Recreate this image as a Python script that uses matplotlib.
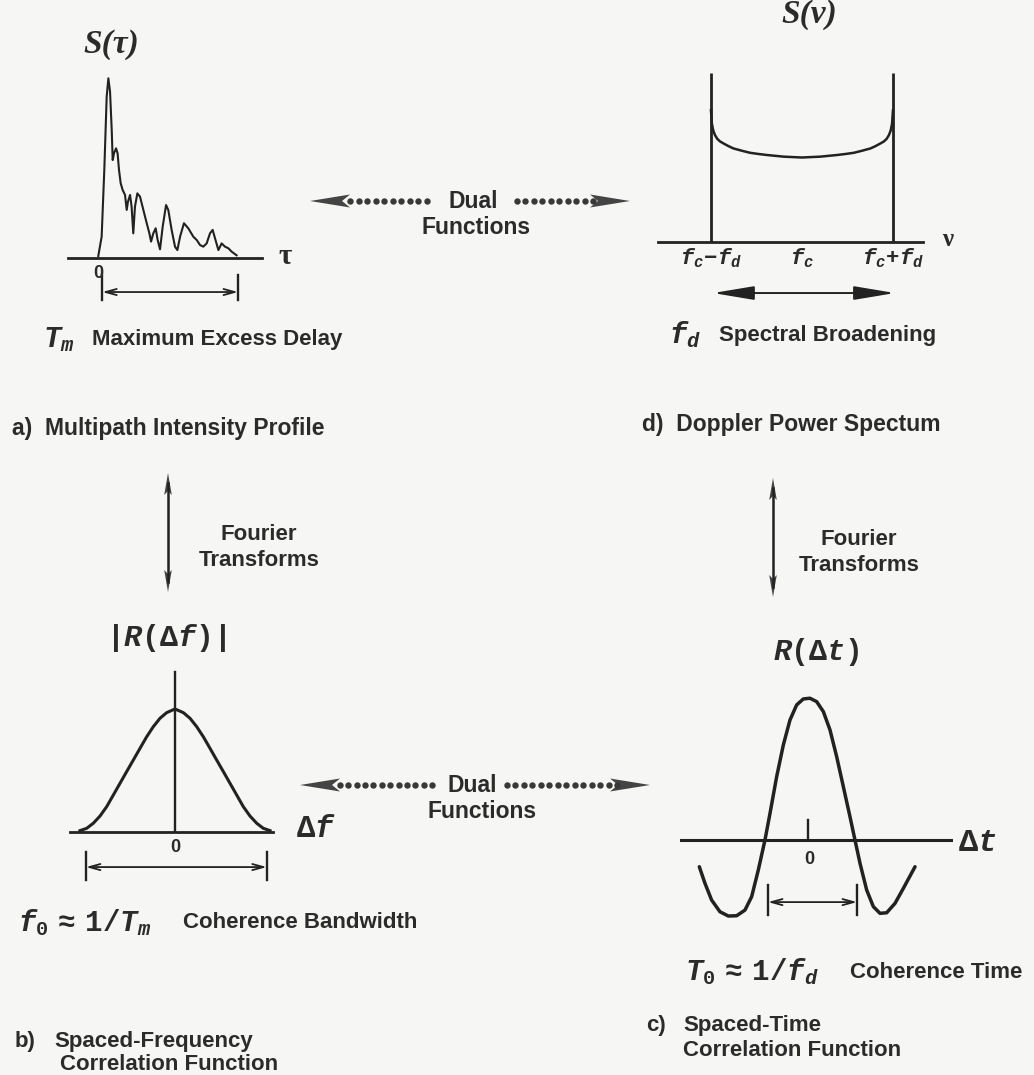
# Funciones de correlacion y espectros de potencia de un canal con desvanecimiento.

import matplotlib.pyplot as plt
import numpy as np
from matplotlib.patches import Polygon

plt.rcParams['mathtext.fontset'] = 'custom'
plt.rcParams['mathtext.rm'] = 'Liberation Mono:bold'
plt.rcParams['mathtext.it'] = 'Liberation Mono:italic:bold'
plt.rcParams['mathtext.bf'] = 'Liberation Mono:bold'

# Datos (unidades normalizadas de cada panel).

# a) perfil de intensidad multitrayecto: tau / T_m , S(tau) / max
tau = [ 0.002, 0.026, 0.045, 0.062, 0.074, 0.086, 0.098, 0.105, 0.114, 0.129, 0.140, 0.150,
        0.162, 0.176, 0.193, 0.205, 0.214, 0.229, 0.240, 0.252, 0.264, 0.281, 0.300, 0.324,
        0.348, 0.367, 0.379, 0.395, 0.412, 0.426, 0.443, 0.462, 0.486, 0.502, 0.526, 0.550,
        0.567, 0.586, 0.614, 0.645, 0.681, 0.705, 0.729, 0.752, 0.776, 0.800, 0.819, 0.836,
        0.860, 0.883, 0.907, 0.931, 0.955, 0.990 ]
s_tau = [ 0.011, 0.118, 0.489, 0.896, 0.998, 0.924, 0.711, 0.544, 0.581, 0.609, 0.581, 0.489,
          0.415, 0.378, 0.350, 0.267, 0.313, 0.350, 0.285, 0.137, 0.285, 0.359, 0.341, 0.267,
          0.193, 0.137, 0.091, 0.137, 0.165, 0.100, 0.048, 0.174, 0.294, 0.267, 0.156, 0.063,
          0.044, 0.118, 0.193, 0.165, 0.118, 0.100, 0.072, 0.063, 0.081, 0.137, 0.156, 0.109,
          0.044, 0.081, 0.063, 0.054, 0.035, 0.015 ]

# d) espectro Doppler: (nu - fc) / fd , S(nu)
nu = [ -1.0, -0.99, -0.975, -0.956, -0.93, -0.9, -0.865, -0.81, -0.755, -0.66, -0.571, -0.48,
       -0.388, -0.2, 0.0, 0.2, 0.388, 0.48, 0.571, 0.66, 0.755, 0.81, 0.865, 0.9, 0.93,
       0.956, 0.975, 0.99, 1.0 ]
s_nu = [ 0.78, 0.70, 0.66, 0.633, 0.61, 0.595, 0.584, 0.568, 0.554, 0.54, 0.528, 0.521,
         0.515, 0.505, 0.50, 0.505, 0.515, 0.521, 0.528, 0.54, 0.554, 0.568, 0.584, 0.595,
         0.61, 0.633, 0.66, 0.70, 0.78 ]
nu_ticks = [ -1.0, 0.0, 1.0 ]
nu_labels = [ r'$f_c\!-\!f_d$', r'$f_c$', r'$f_c\!+\!f_d$' ]

# b) correlacion en frecuencia: delta f , |R(delta f)|
df = [ -1.056, -0.981, -0.908, -0.833, -0.759, -0.685, -0.611, -0.537, -0.463, -0.389,
       -0.314, -0.241, -0.167, -0.093, 0.0, 0.093, 0.167, 0.241, 0.314, 0.389, 0.463,
       0.537, 0.611, 0.685, 0.759, 0.833, 0.908, 0.981, 1.056 ]
r_df = [ 0.011, 0.030, 0.071, 0.130, 0.206, 0.301, 0.396, 0.491, 0.585, 0.680, 0.775,
         0.856, 0.924, 0.970, 1.0, 0.970, 0.924, 0.856, 0.775, 0.680, 0.585, 0.491, 0.396,
         0.301, 0.206, 0.130, 0.071, 0.030, 0.011 ]

# c) correlacion en tiempo: delta t , R(delta t)
dt = [ -2.415, -2.289, -2.141, -1.956, -1.770, -1.585, -1.400, -1.252, -1.104, -0.956,
       -0.844, -0.696, -0.548, -0.400, -0.252, -0.104, 0.044, 0.193, 0.341, 0.489, 0.637,
       0.785, 0.933, 1.044, 1.156, 1.304, 1.452, 1.600, 1.748, 1.933, 2.119, 2.378 ]
r_dt = [ -0.188, -0.305, -0.423, -0.505, -0.535, -0.533, -0.493, -0.399, -0.211, 0.0,
         0.188, 0.446, 0.669, 0.845, 0.951, 0.993, 0.998, 0.974, 0.904, 0.775, 0.587,
         0.376, 0.164, 0.0, -0.164, -0.352, -0.469, -0.516, -0.512, -0.446, -0.340, -0.188 ]

W , H = 1034 , 1075
INK = '#222222'
TXT = '#2b2b2b'
SANS = [ 'Liberation Sans', 'DejaVu Sans' ]
SERIF = [ 'Liberation Serif', 'DejaVu Serif' ]
BG = '#f6f6f4'

fig = plt.figure( figsize = ( W / 100 , H / 100 ) , dpi = 100 )
fig.patch.set_facecolor( BG )

# Ejes de superposicion en pixeles.
ov = fig.add_axes( [ 0 , 0 , 1 , 1 ] )
ov.set_xlim( 0 , W )
ov.set_ylim( H , 0 )
ov.axis( 'off' )

def panel( x0 , y0 , x1 , y1 , xlim , ylim ) :

    ax = fig.add_axes( [ x0 / W , 1 - y1 / H , ( x1 - x0 ) / W , ( y1 - y0 ) / H ] )
    ax.set_xlim( xlim )
    ax.set_ylim( ylim )
    ax.axis( 'off' )
    ax.patch.set_alpha( 0 )
    return ax

def label( x , y , s , size = 16 , ha = 'left' , family = SANS , **kw ) :

    ov.text( x , y , s , fontsize = size , ha = ha , va = 'center' , color = TXT ,
             family = family , fontweight = 'bold' , **kw )

def bracket( ax , a , b , y , y0 , y1 ) :

    ax.annotate( '' , xy = ( b , y ) , xytext = ( a , y ) , annotation_clip = False ,
                 arrowprops = dict( arrowstyle = '<->,head_length=0.8,head_width=0.22' ,
                                    lw = 1.3 , color = INK , shrinkA = 0 , shrinkB = 0 ) )
    ax.plot( [ a , a ] , [ y0 , y1 ] , color = INK , lw = 1.7 , clip_on = False )
    ax.plot( [ b , b ] , [ y0 , y1 ] , color = INK , lw = 1.7 , clip_on = False )

def dart( x , y , d , L = 40 , w = 6.5 , n = 8 , horiz = True ) :

    if horiz :
        pts = [ ( x , y ) , ( x + d * L , y - w ) , ( x + d * ( L - n ) , y ) , ( x + d * L , y + w ) ]
    else :
        pts = [ ( x , y ) , ( x - w , y + d * L ) , ( x , y + d * ( L - n ) ) , ( x + w , y + d * L ) ]
    ov.add_patch( Polygon( pts , closed = True , color = '#444444' , lw = 0 ) )

def dual_arrow( y , xl , xr , d0 , d1 , d2 , d3 , xt , xf ) :

    dart( xl , y , 1 )
    dart( xr , y , -1 )
    for a , b in ( ( d0 , d1 ) , ( d2 , d3 ) ) :
        xs = np.linspace( a , b , int( round( ( b - a ) / 8.5 ) ) + 1 )
        ov.plot( xs , np.full( len( xs ) , y ) , 'o' , ms = 4.6 , color = '#383838' , mew = 0 )
    label( xt , y , 'Dual' , 16.5 , 'center' )
    label( xf , y + 27 , 'Functions' , 16.5 , 'center' )

def fourier( x , y0 , y1 , xt ) :

    ov.plot( [ x , x ] , [ y0 + 10 , y1 - 10 ] , color = INK , lw = 1.8 )
    dart( x , y0 , 1 , L = 22 , w = 3.8 , n = 4 , horiz = False )
    dart( x , y1 , -1 , L = 22 , w = 3.8 , n = 4 , horiz = False )
    label( xt , ( y0 + y1 ) / 2 + 2 , 'Fourier' , 16 , 'center' )
    label( xt , ( y0 + y1 ) / 2 + 28 , 'Transforms' , 16 , 'center' )

# a) Perfil de intensidad multitrayecto.
axa = panel( 68 , 70 , 262 , 258 , ( -0.2143 , 1.1714 ) , ( 0 , 1.044 ) )
axa.plot( [ -0.2143 , 1.1714 ] , [ 0 , 0 ] , color = INK , lw = 2.0 , clip_on = False )
axa.plot( tau , s_tau , color = INK , lw = 1.5 , clip_on = False , solid_joinstyle = 'round' )
bracket( axa , 0.03 , 1.0 , -0.189 , -0.094 , -0.233 )
axa.text( 0 , -0.085 , '0' , ha = 'center' , va = 'center' , fontsize = 13 , fontweight = 'bold' , color = TXT , family = SANS )
label( 111 , 45 , r'S(τ)' , 24 , 'center' , SERIF , style = 'italic' )
label( 285 , 256 , 'τ' , 21 , 'center' , SERIF )
label( 43 , 340 , r'$T_m$' , 21 )
label( 92 , 340 , 'Maximum Excess Delay' , 16 )
label( 12 , 428 , 'a)  Multipath Intensity Profile' , 16.5 )

# d) Espectro de potencia Doppler.
axd = panel( 658 , 60 , 923 , 242 , ( -1.582 , 1.330 ) , ( 0 , 1.077 ) )
axd.plot( [ -1.582 , 1.330 ] , [ 0 , 0 ] , color = INK , lw = 2.0 , clip_on = False )
axd.vlines( [ nu[ 0 ] , nu[ -1 ] ] , 0 , 1.0 , color = INK , lw = 2.0 )
axd.plot( nu , s_nu , color = INK , lw = 1.8 , solid_joinstyle = 'round' )
for v , t in zip( nu_ticks , nu_labels ) :
    axd.text( v , -0.095 , t , ha = 'center' , va = 'center' , fontsize = 16 , color = TXT )
axd.annotate( '' , xy = ( 1.022 , -0.302 ) , xytext = ( -0.978 , -0.302 ) , annotation_clip = False ,
              arrowprops = dict( arrowstyle = '<|-|>,head_length=1.8,head_width=0.3' , mutation_scale = 14 ,
                                 lw = 1.4 , color = INK , shrinkA = 0 , shrinkB = 0 ) )
label( 809 , 14 , r'S(ν)' , 24 , 'center' , SERIF , style = 'italic' )
label( 948 , 240 , 'ν' , 18 , 'center' , SERIF )
label( 669 , 335 , r'$f_d$' , 21 )
label( 719 , 335 , 'Spectral Broadening' , 16 )
label( 642 , 425 , 'd)  Doppler Power Spectum' , 16.5 )

# Flechas entre paneles.
dual_arrow( 201 , 310 , 630 , 350 , 427 , 517 , 593 , 473 , 476 )
dual_arrow( 785 , 300 , 650 , 340 , 432 , 507 , 617 , 472 , 482 )
fourier( 168 , 473 , 592 , 259 )
fourier( 773 , 478 , 597 , 859 )

# b) Correlacion en frecuencia.
axb = panel( 70 , 660 , 273 , 832 , ( -1.1667 , 1.0889 ) , ( 0 , 1.398 ) )
axb.plot( [ -1.1667 , 1.0889 ] , [ 0 , 0 ] , color = INK , lw = 2.0 , clip_on = False )
axb.plot( [ 0 , 0 ] , [ 0 , 1.30 ] , color = INK , lw = 1.7 )
axb.plot( df , r_df , color = INK , lw = 2.2 , solid_joinstyle = 'round' )
bracket( axb , -0.99 , 1.02 , -0.285 , -0.163 , -0.39 )
axb.text( 0 , -0.13 , '0' , ha = 'center' , va = 'center' , fontsize = 13 , fontweight = 'bold' , color = TXT , family = SANS )
label( 166 , 638 , r'$|R(\Delta f)|$' , 21.5 , 'center' )
label( 316 , 829 , r'$\Delta f$' , 22 , 'center' )
label( 18 , 923 , r'$f_0\ \approx\ 1/T_m$' , 21 )
label( 183 , 923 , 'Coherence Bandwidth' , 16 )
label( 15 , 1041 , 'b)' , 16 )
label( 54 , 1041 , 'Spaced-Frequency' , 16 )
label( 60 , 1064 , 'Correlation Function' , 16 )

# c) Correlacion en tiempo.
axc = panel( 680 , 690 , 953 , 920 , ( -2.844 , 3.222 ) , ( -0.563 , 1.056 ) )
axc.axhline( 0 , color = INK , lw = 2.2 )
axc.plot( [ 0 , 0 ] , [ 0 , 0.14 ] , color = INK , lw = 1.7 )
axc.plot( dt , r_dt , color = INK , lw = 2.5 , clip_on = False , solid_joinstyle = 'round' , solid_capstyle = 'round' )
bracket( axc , -0.889 , 1.089 , -0.437 , -0.317 , -0.528 )
axc.text( 0.02 , -0.14 , '0' , ha = 'center' , va = 'center' , fontsize = 13 , fontweight = 'bold' , color = TXT , family = SANS )
label( 816 , 652 , r'$R(\Delta t)$' , 21.5 , 'center' )
label( 977 , 843 , r'$\Delta t$' , 23 , 'center' )
label( 685 , 972 , r'$T_0\ \approx\ 1/f_d$' , 21 )
label( 850 , 972 , 'Coherence Time' , 16 )
label( 646 , 1025 , 'c)' , 16 )
label( 683 , 1025 , 'Spaced-Time' , 16 )
label( 683 , 1050 , 'Correlation Function' , 16 )

plt.savefig( 'out.png' , dpi = 100 , facecolor = fig.get_facecolor( ) )
